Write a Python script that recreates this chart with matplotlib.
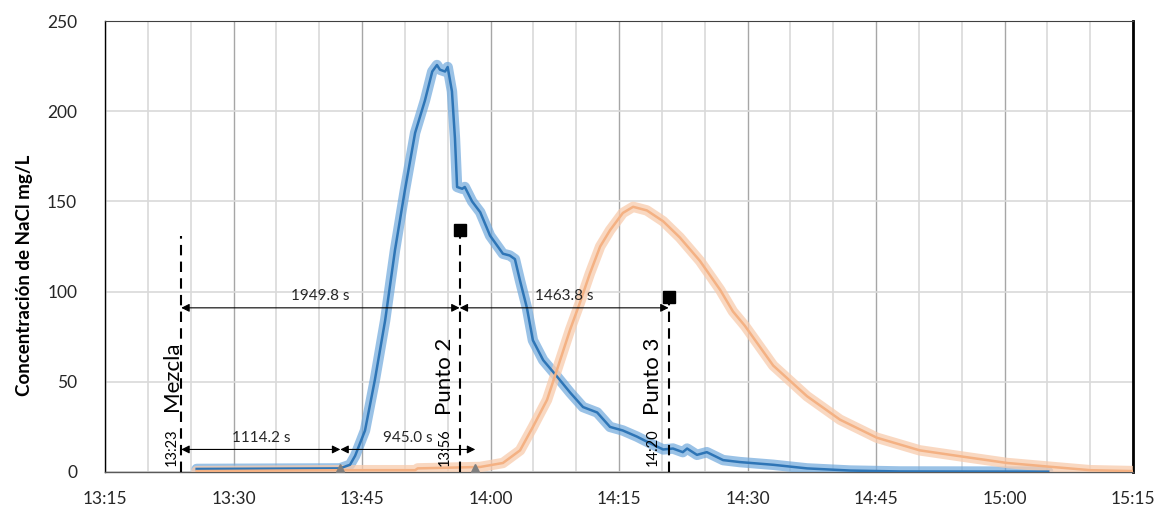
import matplotlib
matplotlib.use("Agg")
import matplotlib.pyplot as plt
from matplotlib.ticker import MultipleLocator, FuncFormatter
import numpy as np

plt.rcParams["font.family"] = ["Lato", "DejaVu Sans"]

# tiempo en minutos desde las 13:00, concentracion en mg/L
t_p2 = [25.7, 42.4, 43.6, 44.2, 45.35, 46.5, 47.7, 48.85, 50.0, 51.2, 52.35, 53.2,
        53.75, 54.1, 54.7, 55.0, 55.5, 55.85, 56.1, 56.7, 57.0, 57.85, 58.8, 59.95,
        61.45, 62.25, 62.85, 63.45, 64.25, 64.95, 66.15, 67.75, 69.3, 70.8, 72.45,
        73.95, 75.45, 77.1, 78.6, 80.15, 81.3, 82.45, 82.95, 84.1, 85.25, 87.15,
        89.1, 93.0, 96.95, 102.0, 107.8, 125.1]
c_p2 = [1.7, 2.0, 4.0, 9.0, 23.0, 51.0, 84.0, 123.0, 156.0, 188.0, 206.0, 222.0,
        225.6, 223.0, 222.0, 224.5, 211.0, 185.0, 158.0, 157.0, 158.0, 150.0, 144.0,
        131.0, 121.0, 120.0, 118.0, 106.0, 91.0, 73.0, 62.0, 53.0, 44.0, 36.0, 33.0,
        25.0, 23.0, 19.6, 16.0, 12.5, 13.0, 11.0, 13.0, 9.5, 11.0, 6.6,
        5.5, 4.0, 2.0, 0.8, 0.3, 0.2]

t_p3 = [25.7, 42.4, 51.2, 51.5, 58.8, 61.45, 63.45, 64.95, 66.6, 67.75, 69.3, 70.45,
        71.6, 72.8, 73.95, 75.45, 76.65, 78.25, 80.15, 82.1, 84.45, 86.8, 88.3,
        89.7, 93.0, 96.95, 100.8, 105.1, 110.1, 115.15, 120.3, 125.1, 130.0, 135.0]
c_p3 = [0.5, 1.0, 1.0, 2.0, 2.8, 5.0, 12.0, 25.0, 40.0, 56.5, 79.0, 94.0,
        110.0, 125.0, 134.0, 143.6, 147.0, 145.0, 139.0, 130.0, 117.0, 101.0, 89.0,
        81.0, 59.0, 42.0, 29.0, 19.0, 12.0, 8.5, 5.0, 3.0, 1.0, 0.5]

# eventos
t_mezcla = 23.9
dt_total = 1949.8   # s, mezcla -> punto 2
dt_p2_p3 = 1463.8   # s, punto 2 -> punto 3
dt_llegada = 1114.2  # s, mezcla -> llegada
dt_paso = 945.0      # s
t_punto2 = t_mezcla + dt_total / 60
t_punto3 = t_punto2 + dt_p2_p3 / 60
t_llegada2 = t_mezcla + dt_llegada / 60
t_llegada3 = t_llegada2 + dt_paso / 60

fig = plt.figure(figsize=(11.59, 5.08), dpi=100)
ax = fig.add_axes([105 / 1159, 1 - 472 / 508, 1028 / 1159, 451 / 508])

# curvas con halo
ax.plot(t_p2, c_p2, color="#6fa8dc", lw=7.5, alpha=0.7, solid_capstyle="round", zorder=3)
ax.plot(t_p2, c_p2, color="#2e75b6", lw=1.8, zorder=4)
ax.plot(t_p3, c_p3, color="#f8cbad", lw=7.5, alpha=0.75, solid_capstyle="round", zorder=3)
ax.plot(t_p3, c_p3, color="#f4b183", lw=1.8, zorder=4)

# lineas verticales discontinuas
dash = dict(color="black", lw=1.5, ls=(0, (5, 3)), zorder=5)
ax.plot([t_mezcla, t_mezcla], [0, 131], **dash)
ax.plot([t_punto2, t_punto2], [0, 134], **dash)
ax.plot([t_punto3, t_punto3], [0, 97], **dash)
ax.plot([t_punto2], [134], "s", color="black", ms=9, zorder=6)
ax.plot([t_punto3 + 0.1], [97], "s", color="black", ms=9, zorder=6)

# triangulos de llegada
ax.plot([t_llegada2, t_llegada3], [2, 2], "^", color="#7f7f7f", ms=6, zorder=6)

# flechas de tiempo
arr = dict(arrowstyle="<|-|>", color="black", lw=0.8, mutation_scale=12, shrinkA=0, shrinkB=0)
spans = [(t_mezcla, t_punto2, 91, "%.1f s" % dt_total),
         (t_punto2, t_punto3, 91, "%.1f s" % dt_p2_p3),
         (t_mezcla, t_llegada2, 12.5, "%.1f s" % dt_llegada),
         (t_llegada2, t_llegada3, 12.5, "%.1f s" % dt_paso)]
for a, b, y, txt in spans:
    ax.annotate("", xy=(b, y), xytext=(a, y), arrowprops=arr, zorder=6)
    ax.text((a + b) / 2, y + 2.5, txt, ha="center", va="bottom", fontsize=11, color="#262626", zorder=6)

# etiquetas verticales
labels = [(t_mezcla - 1.05, "Mezcla", "13:23"),
          (t_punto2 - 1.75, "Punto 2", "13:56"),
          (t_punto3 - 1.85, "Punto 3", "14:20")]
for x, name, hora in labels:
    ax.text(x, 53, name, rotation=90, ha="center", va="center", fontsize=16, zorder=6)
    ax.text(x, 14, hora, rotation=90, ha="center", va="center", fontsize=10.5, zorder=6)

ax.set_xlim(15, 135)
ax.set_ylim(0, 250)
ax.xaxis.set_major_locator(MultipleLocator(15))
ax.xaxis.set_minor_locator(MultipleLocator(5))
ax.yaxis.set_major_locator(MultipleLocator(50))
ax.xaxis.set_major_formatter(FuncFormatter(lambda v, p: "%d:%02d" % (13 + int(v) // 60, int(v) % 60)))
ax.grid(True, which="minor", axis="x", color="#d9d9d9", lw=1.2)
ax.grid(True, which="major", axis="x", color="#a6a6a6", lw=1.0)
ax.grid(True, which="major", axis="y", color="#d9d9d9", lw=1.2)
ax.set_axisbelow(True)
ax.tick_params(which="both", length=0, labelsize=12.5, colors="#262626")
ax.tick_params(axis="x", pad=14)
ax.tick_params(axis="y", pad=20)

ax.spines["left"].set_color("black")
ax.spines["left"].set_linewidth(1.0)
ax.spines["right"].set_color("black")
ax.spines["right"].set_linewidth(2.0)
ax.spines["top"].set_color("#404040")
ax.spines["top"].set_linewidth(0.8)
ax.spines["bottom"].set_color("#595959")
ax.spines["bottom"].set_linewidth(1.0)

fig.text(25 / 1159, 1 - 275 / 508, "Concentración de NaCl mg/L", rotation=90,
         ha="center", va="center", fontsize=13.5, fontweight="bold")

fig.savefig("out.png", dpi=100)
